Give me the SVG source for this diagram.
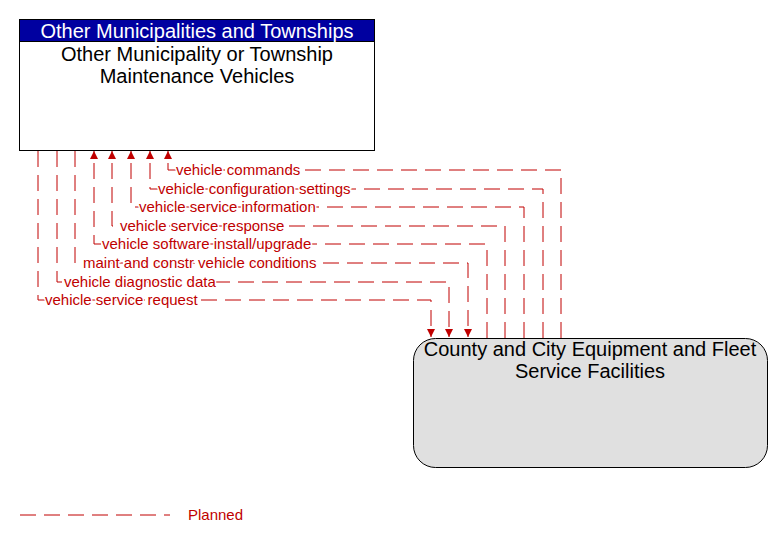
<svg xmlns="http://www.w3.org/2000/svg" width="783" height="543" viewBox="0 0 783 543">
<style>
text{font-family:"Liberation Sans",Arial,sans-serif}
.t{font-size:20px;text-anchor:middle}
.l{font-size:15px;fill:#c00000}
.c{fill:none;stroke:#c00000;stroke-width:1;stroke-dasharray:16 8}
</style>
<defs>
<marker id="a" viewBox="0 0 10 10" refX="10" refY="5" markerWidth="8" markerHeight="8" orient="auto"><path d="M0,0L10,5L0,10z" fill="#c00000"/></marker>
</defs>
<rect width="783" height="543" fill="#fff"/>
<g id="n1">
<rect x="19.5" y="19.5" width="355" height="131" fill="#fff" stroke="#000"/>
<rect x="19.5" y="19.5" width="355" height="22" fill="#0000a0" stroke="#000"/>
<text class="t" x="197" y="38" fill="#fff">Other Municipalities and Townships</text>
<text class="t" x="197" y="61">Other Municipality or Township</text>
<text class="t" x="197" y="83">Maintenance Vehicles</text>
</g>
<g id="n2">
<rect x="413.5" y="338.5" width="354" height="129" rx="22" fill="#e0e0e0" stroke="#000"/>
<text class="t" x="590" y="356">County and City Equipment and Fleet</text>
<text class="t" x="590" y="378">Service Facilities</text>
</g>
<g id="connectors">
<path class="c" marker-end="url(#a)" d="M561,338V170H168V151"/>
<path class="c" marker-end="url(#a)" d="M543,338V189H150V151"/>
<path class="c" marker-end="url(#a)" d="M524,338V207H131V151"/>
<path class="c" marker-end="url(#a)" d="M505,338V226H112V151"/>
<path class="c" marker-end="url(#a)" d="M487,338V244H94V151"/>
<path class="c" marker-end="url(#a)" d="M75,151V263H468V337"/>
<path class="c" marker-end="url(#a)" d="M57,151V282H449V337"/>
<path class="c" marker-end="url(#a)" d="M38,151V300H431V337"/>
<g style="paint-order:stroke" stroke="#fff" stroke-width="3">
<text class="l" x="176" y="175">vehicle commands</text>
<text class="l" x="158" y="194">vehicle configuration settings</text>
<text class="l" x="139" y="212">vehicle service information</text>
<text class="l" x="120" y="231">vehicle service response</text>
<text class="l" x="102" y="249">vehicle software install/upgrade</text>
<text class="l" x="83" y="268">maint and constr vehicle conditions</text>
<text class="l" x="64" y="287">vehicle diagnostic data</text>
<text class="l" x="45" y="305">vehicle service request</text>
</g>
</g>
<g id="legend">
<path class="c" d="M20,515H170"/>
<text class="l" x="188" y="520">Planned</text>
</g>
</svg>
